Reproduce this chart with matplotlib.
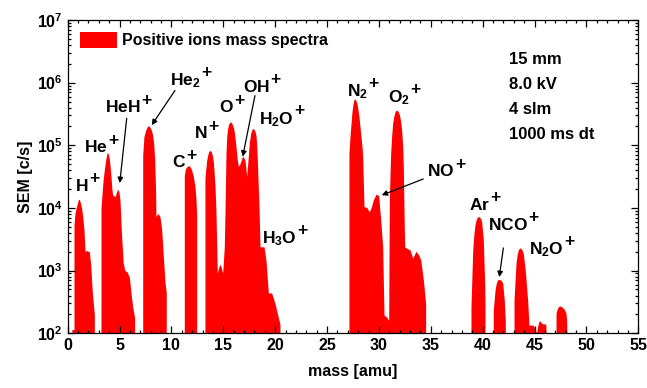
import matplotlib
matplotlib.use("Agg")
import matplotlib.pyplot as plt
from matplotlib.ticker import MultipleLocator, LogLocator, FixedLocator, NullFormatter

plt.rcParams['font.family'] = ['Liberation Sans', 'DejaVu Sans']
plt.rcParams['font.weight'] = 'bold'
plt.rcParams['mathtext.fontset'] = 'custom'
plt.rcParams['mathtext.rm'] = 'Liberation Sans:bold'
plt.rcParams['mathtext.bf'] = 'Liberation Sans:bold'
plt.rcParams['mathtext.it'] = 'Liberation Sans:bold'
plt.rcParams['mathtext.default'] = 'bf'

# spectrum, one list pair per group of peaks (mass in amu, counts in c/s)
h_mass = [0.41, 0.61, 0.61, 0.70, 0.80, 0.93, 1.02, 1.12, 1.25, 1.35, 1.45, 1.57, 1.67, 1.85,
          2.09, 2.22, 2.38, 2.57]
h_counts = [115, 115, 5400, 8100, 9800, 11700, 13500, 13800, 11700, 9800, 7200, 4500, 2040,
            2090, 2000, 1230, 440, 200]

he_mass = [3.21, 3.34, 3.43, 3.53, 3.66, 3.76, 3.82, 3.91, 4.01, 4.08, 4.17, 4.27, 4.33, 4.56,
           4.66, 4.82, 4.94, 5.04, 5.20, 5.36, 5.52, 5.60, 5.69, 5.80, 5.94, 6.10, 6.27, 6.45]
he_counts = [9800, 19500, 29500, 40000, 58000, 71000, 76000, 74000, 62000, 48000, 32000, 19500,
             16200, 15100, 17000, 20000, 18200, 13500, 3500, 1300, 1000, 980, 980, 890, 800,
             440, 260, 180]

he2_mass = [7.23, 7.35, 7.52, 7.67, 7.84, 8.00, 8.16, 8.29, 8.39, 8.48, 8.51, 8.60, 8.73, 8.90,
            9.06, 9.22, 9.38, 9.50]
he2_counts = [69000, 138000, 174000, 200000, 204000, 186000, 155000, 107000, 58000, 17000, 7200,
              7800, 8100, 7200, 4500, 1700, 650, 450]

c_mass = [11.24, 11.35, 11.47, 11.60, 11.72, 11.85, 11.95, 12.11, 12.27, 12.37, 12.43]
c_counts = [33000, 42000, 45000, 47000, 47000, 44000, 40000, 32000, 22000, 13500, 8000]

nowater_mass = [13.23, 13.30, 13.40, 13.49, 13.59, 13.72, 13.84, 13.94, 14.04, 14.10, 14.20,
                14.29, 14.42, 14.55, 14.68, 14.80, 14.94, 15.10, 15.16, 15.26, 15.33, 15.42,
                15.52, 15.64, 15.77, 15.90, 16.00, 16.10, 16.22, 16.35, 16.45, 16.61, 16.87,
                17.09, 17.25, 17.41, 17.50, 17.64, 17.76, 17.89, 18.02, 18.15, 18.21, 18.28,
                18.37, 18.44, 18.54, 18.92, 19.11, 19.34, 19.66, 19.98, 20.20, 20.46]
nowater_counts = [30000, 40000, 58000, 69000, 79000, 83000, 79000, 69000, 55000, 40000, 22000,
                  9300, 910, 1120, 1260, 1120, 910, 2500, 8100, 74000, 138000, 186000, 219000,
                  234000, 234000, 209000, 186000, 145000, 95000, 58000, 46000, 51000, 68000,
                  58000, 32000, 66000, 107000, 155000, 178000, 186000, 174000, 145000, 107000,
                  58000, 22000, 10500, 2400, 2400, 1480, 440, 440, 300, 210, 140]

air_mass = [27.11, 27.21, 27.31, 27.40, 27.50, 27.60, 27.69, 27.79, 27.89, 27.98, 28.08, 28.17,
            28.27, 28.37, 28.43, 28.49, 28.56, 28.82, 29.07, 29.26, 29.46, 29.72, 29.97, 30.17,
            30.36, 30.49, 30.75, 30.94, 31.00, 31.07, 31.13, 31.23, 31.32, 31.42, 31.52, 31.61,
            31.71, 31.81, 31.90, 32.00, 32.10, 32.19, 32.29, 32.35, 32.42, 32.48, 32.74, 33.00,
            33.25, 33.57, 33.83, 34.03, 34.28, 34.50]
air_counts = [74000, 138000, 224000, 340000, 457000, 540000, 550000, 515000, 457000, 372000,
              282000, 200000, 138000, 95000, 66000, 28000, 10500, 10200, 8700, 10200, 13500,
              16600, 15800, 6500, 2400, 195, 182, 160, 13500, 35500, 74000, 145000, 224000,
              282000, 331000, 355000, 363000, 355000, 331000, 295000, 234000, 174000, 95000,
              46000, 8100, 2400, 2240, 2140, 1580, 2040, 1780, 1480, 710, 300]

ar_mass = [38.87, 39.04, 39.15, 39.26, 39.37, 39.48, 39.58, 39.67, 39.80, 39.90, 40.06, 40.19,
           40.22]
ar_counts = [260, 2140, 3800, 5400, 6500, 7100, 7300, 7200, 6800, 6000, 3100, 630, 300]

nco_mass = [41.02, 41.19, 41.30, 41.41, 41.55, 41.67, 41.80, 41.93, 42.08, 42.18]
nco_counts = [235, 490, 620, 710, 720, 720, 690, 630, 340, 150]

n2o_mass = [43.02, 43.21, 43.32, 43.43, 43.55, 43.66, 43.78, 43.91, 44.10, 44.33, 44.46, 44.88,
            45.05, 45.20, 45.30, 45.45, 45.78, 46.07, 46.10]
n2o_counts = [340, 1320, 1800, 2140, 2290, 2290, 2150, 1900, 1020, 340, 135, 135, 115, 102, 130,
              160, 141, 141, 120]

m48_mass = [47.07, 47.20, 47.39, 47.61, 47.84, 48.03, 48.10]
m48_counts = [210, 250, 275, 265, 245, 210, 150]

groups = [(h_mass, h_counts), (he_mass, he_counts), (he2_mass, he2_counts), (c_mass, c_counts),
          (nowater_mass, nowater_counts), (air_mass, air_counts), (ar_mass, ar_counts),
          (nco_mass, nco_counts), (n2o_mass, n2o_counts), (m48_mass, m48_counts)]

# ion labels: text, (mass, counts) of the left end of the baseline; "+" is added after
ion_labels = [
    (r'$\mathbf{H}$', 0.70, 1.9e4),
    (r'$\mathbf{He}$', 1.56, 7.8e4),
    (r'$\mathbf{HeH}$', 3.6, 3.4e5),
    (r'$\mathbf{He_2}$', 9.86, 9.1e5),
    (r'$\mathbf{C}$', 10.05, 4.5e4),
    (r'$\mathbf{N}$', 12.17, 1.3e5),
    (r'$\mathbf{O}$', 14.58, 3.4e5),
    (r'$\mathbf{OH}$', 16.85, 7.2e5),
    (r'$\mathbf{H_2O}$', 18.44, 2.2e5),
    (r'$\mathbf{H_3O}$', 18.73, 2.75e3),
    (r'$\mathbf{N_2}$', 26.92, 6.0e5),
    (r'$\mathbf{O_2}$', 30.87, 4.9e5),
    (r'$\mathbf{NO}$', 34.63, 3.2e4),
    (r'$\mathbf{Ar}$', 38.68, 9.3e3),
    (r'$\mathbf{NCO}$', 40.51, 4.5e3),
    (r'$\mathbf{N_2O}$', 44.46, 1.8e3),
]

# arrows: (tail mass, tail counts) -> (head mass, head counts)
arrows = [
    ((5.69, 2.7e5), (5.02, 2.5e4)),
    ((10.34, 7.5e5), (8.10, 2.1e5)),
    ((18.05, 6.2e5), (16.87, 6.6e4)),
    ((34.27, 2.9e4), (30.27, 1.6e4)),
    ((41.99, 2.3e3), (41.60, 7.9e2)),
]

conditions = ['15 mm', '8.0 kV', '4 slm', '1000 ms dt']

fig = plt.figure(figsize=(6.47, 3.88), dpi=100)
ax = fig.add_axes([0.1046, 0.141, 0.882, 0.8075])

for i, (m, c) in enumerate(groups):
    ax.fill_between(m, 1, c, color='#ff0000', linewidth=0,
                    label='Positive ions mass spectra' if i == 0 else None)

ax.set_yscale('log')
ax.set_xlim(0, 55)
ax.set_ylim(1e2, 1e7)

ax.xaxis.set_major_locator(MultipleLocator(5))
ax.xaxis.set_minor_locator(MultipleLocator(1))
ax.yaxis.set_major_locator(FixedLocator([1e2, 1e3, 1e4, 1e5, 1e6, 1e7]))
ax.yaxis.set_minor_locator(LogLocator(base=10, subs=range(2, 10)))
ax.yaxis.set_minor_formatter(NullFormatter())
ax.set_yticklabels([r'$\mathbf{10^{%d}}$' % k for k in range(2, 8)])
ax.tick_params(which='both', direction='in', top=True, right=True, labelsize=11.5, width=0.9)
ax.tick_params(which='major', length=5)
ax.tick_params(which='minor', length=2.5)
for lab in ax.get_xticklabels():
    lab.set_fontweight('bold')
for sp in ax.spines.values():
    sp.set_linewidth(0.9)

ax.set_xlabel('mass [amu]', fontsize=11.5, fontweight='bold', labelpad=8)
ax.set_ylabel('SEM [c/s]', fontsize=11.5, fontweight='bold', labelpad=3)

for txt, m, c in ion_labels:
    t = ax.text(m, c, txt, fontsize=12.5, ha='left', va='baseline')
    ax.annotate('+', xy=(1, 1), xycoords=t, xytext=(0.5, -4), textcoords='offset points',
                fontsize=12.5, fontweight='bold', ha='left', va='baseline')

for (tail, head) in arrows:
    ax.annotate('', xy=head, xytext=tail,
                arrowprops=dict(arrowstyle='-|>', color='black', lw=0.9,
                                mutation_scale=8, shrinkA=0, shrinkB=0))

for k, txt in enumerate(conditions):
    ax.text(0.773, 0.874 - k * 0.08, txt, transform=ax.transAxes, fontsize=12,
            fontweight='bold', ha='left', va='center')

ax.legend(loc='upper left', bbox_to_anchor=(0.021, 0.962), frameon=False,
          prop={'weight': 'bold', 'size': 11.5}, handlelength=2.35, handleheight=1.2,
          borderpad=0, borderaxespad=0, handletextpad=0.3)

fig.savefig('out.png', dpi=100)
